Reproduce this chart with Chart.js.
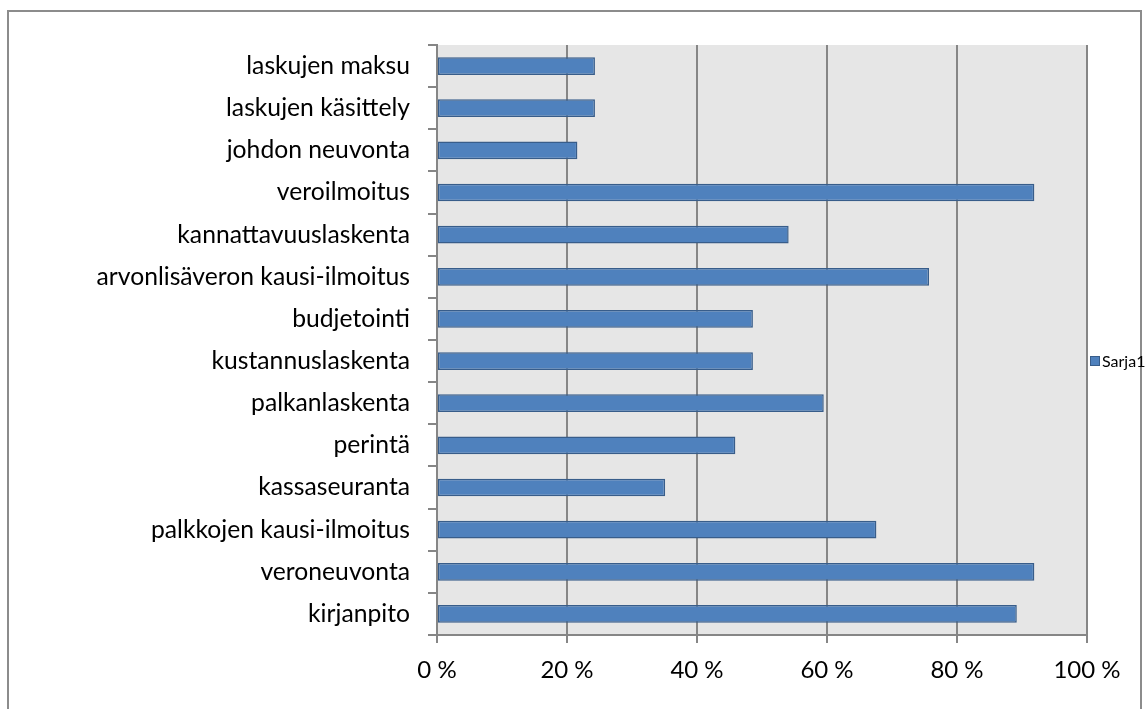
<!DOCTYPE html>
<html>
<head>
<meta charset="utf-8">
<script src="https://cdn.jsdelivr.net/npm/chart.js@4"></script>
<style>
  html, body { margin: 0; padding: 0; background: #ffffff; }
  #wrap { position: relative; width: 1145px; height: 709px; }
</style>
</head>
<body>
<div id="wrap"><canvas id="c" width="1145" height="709"></canvas></div>
<script>
const categories = [
  "laskujen maksu",
  "laskujen käsittely",
  "johdon neuvonta",
  "veroilmoitus",
  "kannattavuuslaskenta",
  "arvonlisäveron kausi-ilmoitus",
  "budjetointi",
  "kustannuslaskenta",
  "palkanlaskenta",
  "perintä",
  "kassaseuranta",
  "palkkojen kausi-ilmoitus",
  "veroneuvonta",
  "kirjanpito"
];
const sarja1 = [24.3, 24.3, 21.6, 91.9, 54.1, 75.7, 48.6, 48.6, 59.5, 45.9, 35.1, 67.6, 91.9, 89.2];
const xTicks = [0, 20, 40, 60, 80, 100];
const seriesName = "Sarja1";

const FONT = "Lato, 'Open Sans', sans-serif";
const GRID = "#868686";
const BAR = "#4f81bd";
const BAR_BORDER = "#385d8a";

const bgPlugin = {
  id: 'plotBg',
  beforeDraw(chart) {
    const {ctx, chartArea: a} = chart;
    ctx.save();
    ctx.fillStyle = '#e6e6e6';
    ctx.fillRect(a.left, a.top, a.right - a.left, a.bottom - a.top);
    ctx.restore();
  },
  afterDraw(chart) {
    const {ctx, chartArea: a} = chart;
    ctx.save();
    // outer chart frame
    ctx.strokeStyle = '#8c8c8c';
    ctx.lineWidth = 2;
    ctx.strokeRect(8, 11, 1133, 720);
    // legend (centred vertically in the frame, right of the plot)
    const cy = 361;
    const bx = a.right + 3;
    ctx.fillStyle = BAR;
    ctx.fillRect(bx, cy - 5, 10, 10);
    ctx.strokeStyle = BAR_BORDER;
    ctx.lineWidth = 1;
    ctx.strokeRect(bx + 0.5, cy - 4.5, 9, 9);
    ctx.fillStyle = '#000000';
    ctx.font = "16px " + FONT;
    ctx.textBaseline = 'middle';
    ctx.textAlign = 'left';
    ctx.fillText(seriesName, bx + 12, cy + 1);
    ctx.restore();
  }
};

new Chart(document.getElementById('c'), {
  type: 'bar',
  data: {
    labels: categories,
    datasets: [{
      label: seriesName,
      data: sarja1,
      backgroundColor: BAR,
      borderColor: BAR_BORDER,
      borderWidth: 1.5,
      borderSkipped: false,
      barPercentage: 0.42,
      categoryPercentage: 1.0
    }]
  },
  options: {
    indexAxis: 'y',
    responsive: false,
    animation: false,
    devicePixelRatio: 1,
    layout: { padding: { left: 0, top: 45, right: 58, bottom: 0 } },
    plugins: {
      legend: { display: false },
      tooltip: { enabled: false }
    },
    scales: {
      x: {
        min: 0, max: 100,
        afterBuildTicks(scale) { scale.ticks = xTicks.map(v => ({ value: v })); },
        afterFit(scale) { scale.height = 74; },
        ticks: {
          color: '#000000',
          font: { family: FONT, size: 24 },
          padding: 13,
          maxRotation: 0,
          callback: v => v + ' %'
        },
        grid: { color: GRID, lineWidth: 2, tickLength: 8 },
        border: { display: true, color: GRID, width: 2 }
      },
      y: {
        afterFit(scale) { scale.width = 437; },
        ticks: {
          color: '#000000',
          font: { family: FONT, size: 24.7 },
          padding: 18,
          autoSkip: false
        },
        grid: { color: GRID, lineWidth: 2, drawOnChartArea: false, tickLength: 9, offset: true },
        border: { display: true, color: GRID, width: 2 }
      }
    }
  },
  plugins: [bgPlugin]
});
</script>
</body>
</html>
